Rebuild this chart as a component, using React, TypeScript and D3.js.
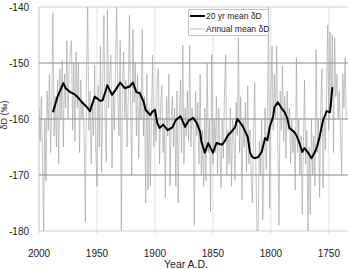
import * as d3 from "d3";
import React from "react";

// Annual mean δD, one value per year from 2000 back to 1735
const annualStart = 2000;
const annualMean: number[] = [
  // 2000-1991
  -158, -164, -156, -167, -180, -160, -171, -155, -162, -152,
  // 1990-1981
  -166, -158, -141, -163, -156, -165, -153, -168, -151, -160,
  // 1980-1971
  -149.5, -165, -152, -158, -146, -160, -151, -148, -146, -162,
  // 1970-1961
  -150, -164, -148, -158, -150, -166, -153, -160, -157, -164,
  // 1960-1951
  -178.4, -152, -139, -162, -155, -168, -158, -163, -150.5, -166,
  // 1950-1941
  -172, -154, -165, -147, -169.5, -153, -141.5, -160, -167.7, -140.5,
  // 1940-1931
  -158, -152, -148.6, -168.8, -155, -162, -150, -139, -157, -163,
  // 1930-1921
  -146, -180, -154, -148, -160, -153, -165, -156, -141.5, -158,
  // 1920-1911
  -170, -144, -157, -150, -163, -152, -167, -155, -160, -144,
  // 1910-1901
  -163, -156, -175, -152, -172.7, -158, -172, -160, -148.6, -165,
  // 1900-1891
  -158, -164, -153, -151, -168, -157, -154, -166, -160, -174,
  // 1890-1881
  -156, -163, -152, -172, -160, -156, -165, -158, -172, -155,
  // 1880-1871
  -175, -160, -153, -166, -146.8, -168, -158, -163, -155, -164,
  // 1870-1861
  -146.8, -165, -158, -162, -179, -155, -163, -157, -168, -152,
  // 1860-1851
  -170, -162, -172, -158, -171, -150, -166, -160, -176.6, -148.5,
  // 1850-1841
  -168, -160, -166, -156, -170, -158, -165, -172.3, -160, -167,
  // 1840-1831
  -155, -148.5, -170, -162, -168, -158, -172, -160, -163, -171,
  // 1830-1821
  -157, -163, -145.5, -166, -156, -174.5, -160, -165, -157, -169.5,
  // 1820-1811
  -154, -168, -162, -170, -175, -163, -153.5, -168, -180, -180,
  // 1810-1801
  -164, -170, -160, -178, -166, -158, -169, -160, -139, -176,
  // 1800-1791
  -155, -147, -162, -152, -160, -147, -165, -179, -155, -162,
  // 1790-1781
  -150.5, -164, -156, -167, -155, -162, -158, -168, -160, -166,
  // 1780-1771
  -162, -172.7, -149, -166, -160, -170, -163, -177, -165, -153,
  // 1770-1761
  -168, -162, -180, -165, -177, -160, -170, -163, -172, -147.6,
  // 1760-1751
  -166, -160, -174, -158, -151, -172.3, -160, -165.5, -155, -143.2,
  // 1750-1741
  -162, -144.5, -158, -145, -166, -145.5, -156, -152, -160, -155,
  // 1740-1735
  -162, -170, -152, -158, -149, -160,
];

// 20 yr running mean δD
const meanYears: number[] = [
  1988, 1984, 1979, 1977, 1973, 1970, 1967, 1963, 1959, 1956,
  1952, 1947, 1945, 1941, 1937, 1934, 1930, 1926, 1922, 1919,
  1916, 1913, 1910, 1908, 1904, 1902, 1900, 1898, 1896, 1893,
  1889, 1885, 1882, 1878, 1874, 1871, 1867, 1864, 1861, 1860,
  1857, 1854, 1852, 1850, 1847, 1842, 1840, 1837, 1834, 1831,
  1829, 1827, 1824, 1820, 1818, 1816, 1814, 1811, 1808, 1805,
  1803, 1801, 1798, 1797, 1794, 1791, 1788, 1786, 1784, 1780,
  1778, 1775, 1773, 1771, 1768, 1765, 1762, 1760, 1758, 1755,
  1753, 1752, 1749, 1747,
];
const meanValues: number[] = [
  -158.8, -156, -153.6, -154.5, -155.2, -155.5, -156, -157, -157.8, -158.6,
  -156, -156.8, -156.6, -154, -155.7, -154.8, -153.5, -154.5, -154.2, -153.5,
  -155.2, -155.4, -156.8, -158.4, -159.3, -158.6, -158.4, -160.7, -161.6, -161,
  -162, -161.5, -160.2, -159.5, -161.4, -160.3, -159.8, -160.7, -162.3, -164,
  -166, -164.3, -165.2, -166, -164.3, -164.6, -164, -162.9, -162.3, -161.5,
  -160, -160.5, -161.4, -163.2, -166, -166.8, -167, -166.8, -165.9, -163.4,
  -163.8, -161.4, -159.5, -157.9, -157, -158, -158.8, -159.8, -161.6, -162.3,
  -162.9, -164.5, -165.9, -165.2, -166, -167, -165.9, -164.8, -163.2, -160.2,
  -159.2, -158.6, -158.8, -154.3,
];

const yTicks = [-180, -170, -160, -150, -140];
const xTicks = [2000, 1950, 1900, 1850, 1800, 1750];

const width = 348;
const height = 269;
const margin = { top: 7, right: 0, bottom: 38, left: 39 };
const font = "'Liberation Sans', Arial, sans-serif";

const App: React.FC = () => {
  const x = d3
    .scaleLinear()
    .domain([2000, 1733.5])
    .range([margin.left, width - margin.right]);
  const y = d3
    .scaleLinear()
    .domain([-180, -140])
    .range([height - margin.bottom, margin.top]);

  const annual = annualMean.map((v, i) => [annualStart - i, v] as [number, number]);
  const smooth = meanYears.map((yr, i) => [yr, meanValues[i]] as [number, number]);

  const line = d3
    .line<[number, number]>()
    .x((d) => x(d[0]))
    .y((d) => y(d[1]));

  const top = y(-140);
  const bottom = y(-180);

  return (
    <svg
      width={width}
      height={height}
      style={{ position: "absolute", left: 0, top: 0, background: "#fff" }}
      fontFamily={font}
    >
      <defs>
        <clipPath id="plot">
          <rect x={margin.left} y={top} width={width - margin.left} height={bottom - top} />
        </clipPath>
      </defs>

      {/* light vertical gridlines at the year ticks */}
      {xTicks.map((t) => (
        <line key={t} x1={x(t)} x2={x(t)} y1={top} y2={bottom + 3} stroke="#e2e2e2" strokeWidth={1} />
      ))}

      {/* frame */}
      <line x1={margin.left} x2={width} y1={top} y2={top} stroke="#d0d0d0" />
      <line x1={margin.left} x2={width} y1={bottom} y2={bottom} stroke="#d0d0d0" />
      <line x1={margin.left} x2={margin.left} y1={top} y2={bottom} stroke="#d0d0d0" />

      {/* horizontal gridlines */}
      {yTicks
        .filter((t) => t > -180 && t < -140)
        .map((t) => (
          <line key={t} x1={margin.left} x2={width} y1={y(t)} y2={y(t)} stroke="#858585" strokeWidth={1} />
        ))}

      <g clipPath="url(#plot)">
        <path d={line(annual) ?? ""} fill="none" stroke="#9c9c9c" strokeWidth={0.6} />
        <path d={line(smooth) ?? ""} fill="none" stroke="#000" strokeWidth={2} strokeLinejoin="round" />
      </g>

      {/* y tick labels */}
      {yTicks.map((t) => (
        <text key={t} x={29} y={y(t)} dy="0.35em" textAnchor="end" fontSize={10} fill="#222">
          {t}
        </text>
      ))}

      {/* x tick labels */}
      {xTicks.map((t) => (
        <text key={t} x={x(t)} y={256.5} textAnchor="middle" fontSize={10} fill="#222">
          {t}
        </text>
      ))}

      <text x={186} y={268} textAnchor="middle" fontSize={10.5} fill="#222">
        Year A.D.
      </text>
      <text
        transform={`translate(7,${(top + bottom) / 2 - 4}) rotate(-90)`}
        textAnchor="middle"
        fontSize={9}
        fill="#222"
      >
        δD (‰)
      </text>

      {/* legend */}
      <g>
        <rect x={188.5} y={9.5} width={80} height={26} fill="#fff" stroke="#c4c4c4" />
        <line x1={190} x2={205} y1={16} y2={16} stroke="#000" strokeWidth={2} />
        <text x={206} y={19} fontSize={8.5} fill="#222">
          20 yr mean δD
        </text>
        <line x1={190} x2={205} y1={29} y2={29} stroke="#9c9c9c" strokeWidth={0.7} />
        <text x={206} y={32} fontSize={8.5} fill="#222">
          Annual mean δD
        </text>
      </g>
    </svg>
  );
};

export default App;
